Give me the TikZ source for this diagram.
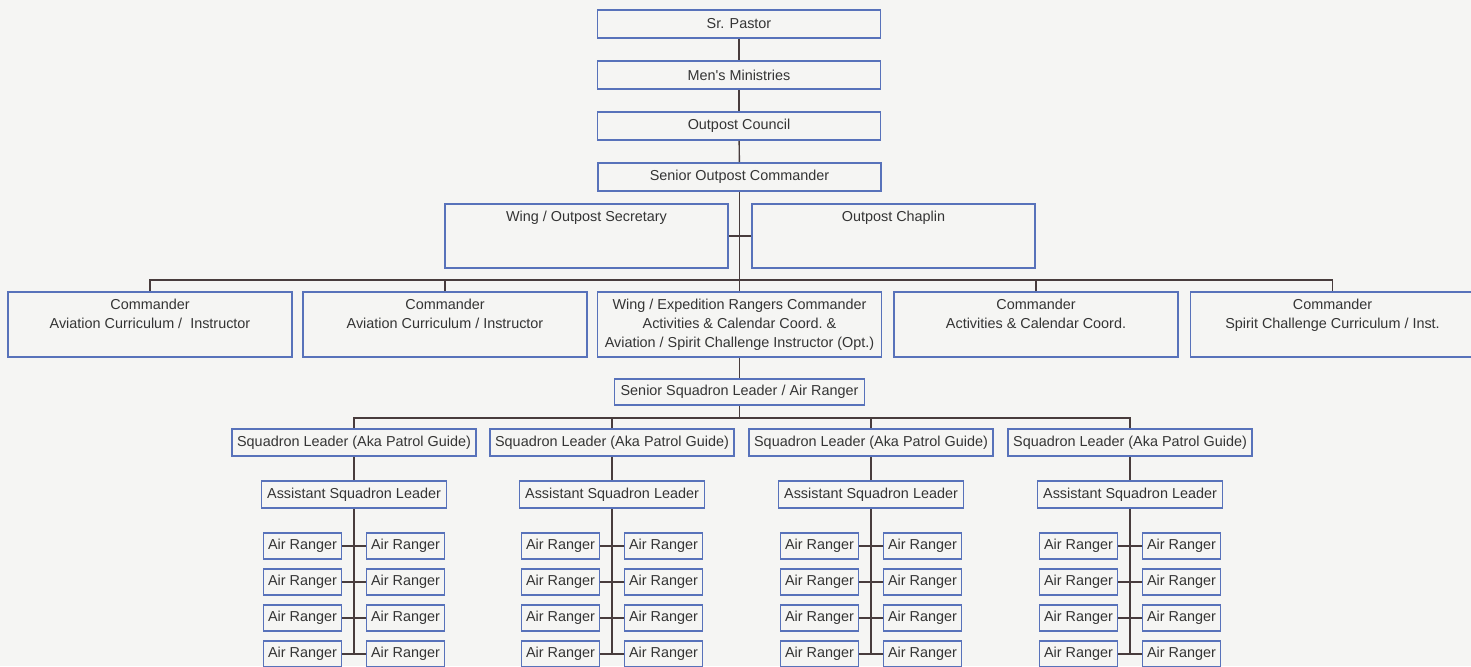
\documentclass[tikz,border=0pt]{standalone}
\usepackage{fontspec}
\setmainfont{Liberation Sans}[Ligatures=TeXOff]
\definecolor{boxblue}{RGB}{88,114,186}
\definecolor{linegray}{RGB}{72,60,60}
\definecolor{txtgray}{RGB}{52,52,52}
\definecolor{paper}{RGB}{245,245,243}
\tikzset{
  box/.style={draw=boxblue, line width=0.9pt, text=txtgray, inner sep=0pt,
    font=\fontsize{7.2}{9.3}\selectfont},
  topbox/.style={box, minimum width=141.5pt, minimum height=14pt},
  widebox/.style={box, minimum width=141.5pt, minimum height=32pt},
  cmdbox/.style={box, minimum width=142pt, minimum height=32.5pt},
  sslbox/.style={box, minimum width=125pt, minimum height=13pt},
  slbox/.style={box, minimum width=122pt, minimum height=13.5pt},
  aslbox/.style={box, minimum width=92.5pt, minimum height=13.5pt},
  arbox/.style={box, minimum width=39pt, minimum height=13pt},
  toptext/.style={anchor=north, yshift=-4pt, inner sep=0pt, align=center,
    text=txtgray, font=\fontsize{7.2}{9.3}\selectfont},
  link/.style={draw=linegray, line width=0.7pt}
}

\begin{document}
\begin{tikzpicture}[x=0.5pt, y=-0.5pt]
        \fill[paper] (0,0) rectangle (1471,666);
        \useasboundingbox (0,0) rectangle (1471,666);
        \clip (0,0) rectangle (1471,666);
        % top of the chart
        \node[topbox] (pastor) at (739,24) {Sr. Pastor};
        \node[topbox] (mens) at (739,75) {Men's Ministries};
        \node[topbox] (council) at (739,126) {Outpost Council};
        \node[topbox] (senior) at (739.5,177) {Senior Outpost Commander};
        \node[widebox, label={[toptext]north:Wing / Outpost Secretary}] (sec) at (586.5,236) {};
        \node[widebox, label={[toptext]north:Outpost Chaplin}] (chap) at (893.5,236) {};
        % commanders
        \node[cmdbox, label={[toptext]north:{Commander\\Aviation Curriculum /~ Instructor}}] (cmd1) at (150,324.5) {};
        \node[cmdbox, label={[toptext]north:{Commander\\Aviation Curriculum / Instructor}}] (cmd2) at (445,324.5) {};
        \node[cmdbox, label={[toptext]north:{Wing / Expedition Rangers Commander\\Activities \& Calendar Coord.\ \&\\Aviation / Spirit Challenge Instructor (Opt.)}}] (wing) at (739.5,324.5) {};
        \node[cmdbox, label={[toptext]north:{Commander\\Activities \& Calendar Coord.}}] (cmd4) at (1036,324.5) {};
        \node[cmdbox, label={[toptext]north:{Commander\\Spirit Challenge Curriculum / Inst.}}] (cmd5) at (1332.5,324.5) {};
        \node[sslbox] (ssl) at (739.5,392) {Senior Squadron Leader / Air Ranger};
        \coordinate (cmdbus) at (739.5,280);
        \coordinate (slbus) at (739.5,418);
        \draw[link] (pastor) -- (mens);
        \draw[link] (mens) -- (council);
        \draw[link] (council) -- (senior);
        \draw[link] (senior) -- (wing);
        \draw[link] (sec) -- (chap);
        \draw[link] (cmd1.north) |- (cmdbus) -| (cmd5.north);
        \foreach \n in {cmd2,cmd4}
            \draw[link] (\n.north) -- (\n.north |- cmdbus);
        \draw[link] (wing) -- (ssl);
        \draw[link] (ssl.south) -- (slbus);
        % squadrons
        \foreach \c/\x in {1/354,2/612,3/871,4/1130} {
            \node[slbox] (sl\c) at (\x,442.5) {Squadron Leader (Aka Patrol Guide)};
            \node[aslbox] (asl\c) at (\x,494.5) {Assistant Squadron Leader};
            \foreach \r/\y in {1/546,2/582,3/618,4/654} {
                \node[arbox] (ar\c-\r-l) at (\x-51.5,\y) {Air Ranger};
                \node[arbox] (ar\c-\r-r) at (\x+51.5,\y) {Air Ranger};
                \draw[link] (ar\c-\r-l) -- (ar\c-\r-r);
            }
            \draw[link] (sl\c) -- (asl\c);
            \draw[link] (asl\c.south) -- (asl\c.south |- ar\c-4-l.east);
        }
        \draw[link] (sl1.north) |- (slbus) -| (sl4.north);
        \foreach \n in {sl2,sl3}
            \draw[link] (\n.north) -- (\n.north |- slbus);
    \end{tikzpicture}
\end{document}
